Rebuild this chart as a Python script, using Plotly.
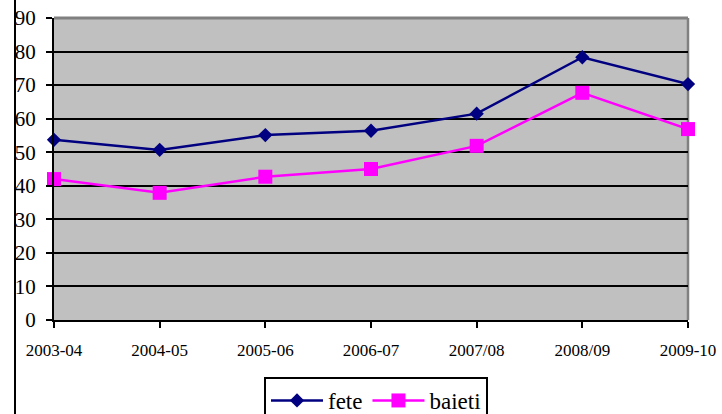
import plotly.graph_objects as go

categories = ["2003-04", "2004-05", "2005-06", "2006-07", "2007/08", "2008/09", "2009-10"]
fete = [53.7, 50.7, 55.1, 56.4, 61.5, 78.3, 70.3]
baieti = [42.0, 37.9, 42.7, 45.0, 51.9, 67.7, 56.9]
y_ticks = [0, 10, 20, 30, 40, 50, 60, 70, 80, 90]

W, H = 722, 414
L, R, T, B = 54, 34, 18, 94
pw, ph = W - L - R, H - T - B
FONT = "Times New Roman, Liberation Serif, serif"

xs = list(range(len(categories)))

fig = go.Figure()
fig.add_trace(go.Scatter(
    x=xs, y=fete, name="fete", mode="lines+markers",
    line=dict(color="#000080", width=2.5),
    marker=dict(symbol="diamond", size=11, color="#000080"),
    cliponaxis=False,
))
fig.add_trace(go.Scatter(
    x=xs, y=baieti, name="baieti", mode="lines+markers",
    line=dict(color="#FF00FF", width=2.5),
    marker=dict(symbol="square", size=14, color="#FF00FF"),
    cliponaxis=False,
))

# gray plot-area border (top and right), drawn between grid and traces
fig.add_shape(type="line", xref="paper", yref="paper", x0=0, x1=1, y0=1, y1=1,
              line=dict(color="#808080", width=3), layer="between")
fig.add_shape(type="line", xref="paper", yref="paper", x0=1, x1=1, y0=0, y1=1,
              line=dict(color="#808080", width=2.5), layer="between")
# chart-area left border
fig.add_shape(type="line", xref="paper", yref="paper",
              x0=(15 - L) / pw, x1=(15 - L) / pw, y0=-B / ph, y1=1 + T / ph,
              line=dict(color="black", width=2))

fig.update_layout(
    width=W, height=H,
    margin=dict(l=L, r=R, t=T, b=B, autoexpand=False),
    paper_bgcolor="white",
    plot_bgcolor="#C0C0C0",
    font=dict(family=FONT, color="black"),
    showlegend=True,
    legend=dict(
        orientation="h", x=(376 - L) / pw, xanchor="center",
        y=(320 - 377) / ph, yanchor="top",
        bordercolor="black", borderwidth=2, bgcolor="white",
        font=dict(size=23, family=FONT, color="black"),
        itemwidth=52,
        tracegroupgap=0,
    ),
    xaxis=dict(
        range=[0, len(categories) - 1], tickvals=xs, ticktext=categories,
        showgrid=False, zeroline=False,
        showline=True, linecolor="black", linewidth=2,
        ticks="outside", ticklen=6, tickwidth=2, tickcolor="black",
        tickfont=dict(size=17, family=FONT, color="black"),
        ticklabelstandoff=8,
    ),
    yaxis=dict(
        range=[0, 90], tickvals=y_ticks,
        showgrid=True, gridcolor="black", gridwidth=2,
        zeroline=False,
        showline=True, linecolor="black", linewidth=2,
        ticks="outside", ticklen=6, tickwidth=2, tickcolor="black",
        tickfont=dict(size=21, family=FONT, color="black"),
        ticklabelstandoff=6,
    ),
)

fig.write_html("out.html", config={"displayModeBar": False})
with open("out.html", encoding="utf-8") as f:
    html = f.read()
html = html.replace("<head>", "<head><style>html,body{margin:0;padding:0;overflow:hidden;}</style>", 1)
with open("out.html", "w", encoding="utf-8") as f:
    f.write(html)
